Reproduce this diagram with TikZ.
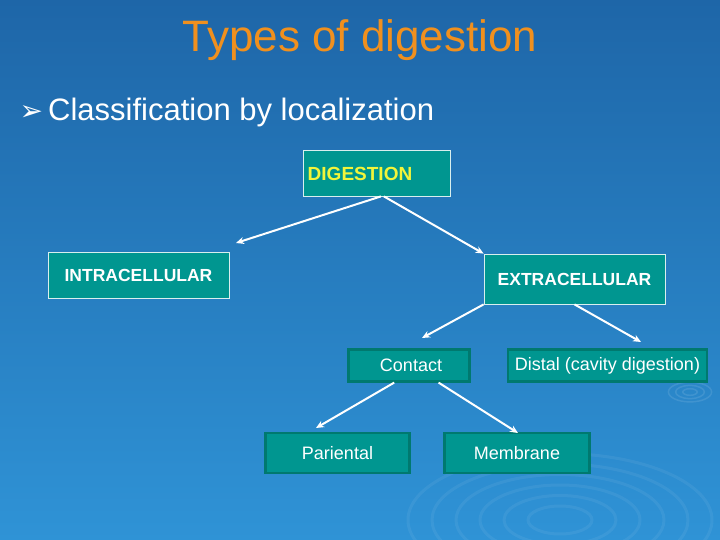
\documentclass[tikz,border=0pt]{standalone}
\usepackage{fontspec}
\setmainfont{Liberation Sans}
\newfontfamily\dejavu{DejaVu Sans}
\usetikzlibrary{calc,arrows.meta}
\definecolor{bgtop}{HTML}{1E66A8}
\definecolor{bgbot}{HTML}{2F93D6}
\definecolor{teal}{HTML}{009690}
\definecolor{tealdark}{HTML}{00796F}
\definecolor{ttl}{HTML}{F0901E}
\definecolor{yel}{HTML}{F2F53A}
\tikzset{
  boxa/.style={draw=white!85!teal, line width=0.8pt, fill=teal, inner sep=0pt},
  boxb/.style={draw=tealdark, line width=2.2pt, fill=teal, inner sep=0pt},
  lbl/.style={text=white, font=\fontsize{18}{21}\selectfont},
  lblb/.style={text=white, font=\bfseries\fontsize{17.5}{20}\selectfont},
  arr/.style={draw=white, line width=2pt, -{Stealth[length=8pt,width=7pt]}}
}
\begin{document}
\begin{tikzpicture}[x=1pt,y=-1pt]
\shade[top color=bgtop, bottom color=bgbot] (0,0) rectangle (720,540);
\useasboundingbox (0,0) rectangle (720,540);
\foreach \r in {20,35,50,65,80,95}{\draw[white, opacity=0.06, line width=3pt] (560,520) ellipse ({\r*1.6} and {\r*0.7});}
\foreach \r in {6,12,18}{\draw[white, opacity=0.1, line width=1.5pt] (690,392) ellipse ({\r*1.2} and {\r*0.55});}
\node[text=ttl, font=\fontsize{44}{50}\selectfont] (title) at (360,40) {Types of digestion};
\node[text=white, font=\fontsize{31}{36}\selectfont, anchor=west] (bul) at (16,112) {{\dejavu\fontsize{28}{30}\selectfont ➢}\,Classification by localization};
\node[boxa, minimum width=147, minimum height=46] (dig) at (376.5,173) {};
\node[text=yel, font=\bfseries\fontsize{19}{22}\selectfont] at (360,174) {DIGESTION};
\node[boxa, minimum width=181, minimum height=46] (intra) at (138.5,275) {};
\node[lblb] at (138.5,275) {INTRACELLULAR};
\node[boxa, minimum width=181, minimum height=50] (extra) at (574.5,279) {};
\node[lblb] at (574.5,279) {EXTRACELLULAR};
\node[boxb, minimum width=121, minimum height=32] (cont) at (409,365.5) {};
\node[lbl] at (411,365.5) {Contact};
\node[boxb, minimum width=199, minimum height=32] (dist) at (607.5,365.5) {};
\node[lbl] at (607.5,365.5) {Distal (cavity digestion)};
\node[boxb, minimum width=144, minimum height=40] (par) at (337.5,453) {};
\node[lbl] at (337.5,453) {Pariental};
\node[boxb, minimum width=145, minimum height=40] (mem) at (517,453) {};
\node[lbl] at (517,453) {Membrane};
\coordinate (t1) at (236,243);
\coordinate (t3) at (422,338);
\coordinate (t4) at (641,342);
\coordinate (t5) at (316,428);
\coordinate (t6) at (518,433);
\draw[arr] ($(dig.south west)!0.53!(dig.south east)$) -- (t1);
\draw[arr] ($(dig.south west)!0.55!(dig.south east)$) -- (extra.north west);
\draw[arr] (extra.south west) -- (t3);
\draw[arr] ($(extra.south west)!0.5!(extra.south east)$) -- (t4);
\draw[arr] ($(cont.south west)!0.38!(cont.south east)$) -- (t5);
\draw[arr] ($(cont.south west)!0.74!(cont.south east)$) -- (t6);
\end{tikzpicture}
\end{document}
